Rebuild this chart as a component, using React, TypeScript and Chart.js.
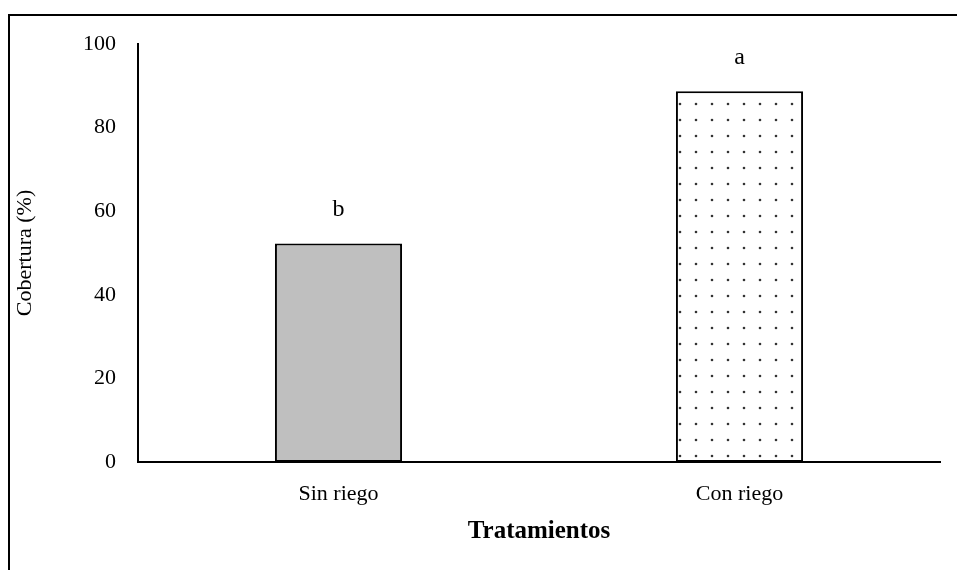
import React, { useEffect, useRef } from "react";
import { Chart, registerables } from "chart.js";

Chart.register(...registerables);

const categories = ["Sin riego", "Con riego"];
const values = [52.3, 88.7];
const letters = ["b", "a"];
const yMin = 0;
const yMax = 100;
const yStep = 20;
const xTitle = "Tratamientos";
const yTitle = "Cobertura (%)";

const FONT = "'Liberation Serif', 'Times New Roman', serif";

function makeDotPattern(ctx: CanvasRenderingContext2D): CanvasPattern | string {
  const c = document.createElement("canvas");
  c.width = 16;
  c.height = 16;
  const p = c.getContext("2d");
  if (!p) return "#fff";
  p.fillStyle = "#ffffff";
  p.fillRect(0, 0, 16, 16);
  p.fillStyle = "#333333";
  p.beginPath();
  p.arc(8, 8, 1.3, 0, Math.PI * 2);
  p.fill();
  return ctx.createPattern(c, "repeat") || "#fff";
}

const frameAndLetters = {
  id: "frameAndLetters",
  beforeDraw(chart: any) {
    const ctx = chart.ctx;
    ctx.save();
    ctx.fillStyle = "#fff";
    ctx.fillRect(0, 0, chart.width, chart.height);
    ctx.strokeStyle = "#000";
    ctx.lineWidth = 2;
    ctx.strokeRect(9, 15, chart.width + 20, chart.height + 20);
    ctx.restore();
  },
  afterDatasetsDraw(chart: any) {
    const ctx = chart.ctx;
    const meta = chart.getDatasetMeta(0);
    ctx.save();
    ctx.fillStyle = "#000";
    ctx.font = `24px ${FONT}`;
    ctx.textAlign = "center";
    ctx.textBaseline = "alphabetic";
    meta.data.forEach((bar: any, i: number) => {
      ctx.fillText(letters[i], bar.x, bar.y - 27);
    });
    ctx.restore();
  },
};

export default function App() {
  const ref = useRef<HTMLCanvasElement | null>(null);

  useEffect(() => {
    const canvas = ref.current;
    if (!canvas) return;
    const ctx = canvas.getContext("2d");
    if (!ctx) return;
    const pattern = makeDotPattern(ctx);
    const chart = new Chart(ctx, {
      type: "bar",
      data: {
        labels: categories,
        datasets: [
          {
            data: values,
            backgroundColor: ["#bfbfbf", pattern as any],
            borderColor: "#000",
            borderWidth: 2,
            borderSkipped: false,
            categoryPercentage: 1,
            barPercentage: 0.317,
          },
        ],
      },
      options: {
        responsive: false,
        animation: false,
        devicePixelRatio: 1,
        layout: { padding: { left: 0, top: 44, right: 17, bottom: 0 } },
        plugins: {
          legend: { display: false },
          tooltip: { enabled: false },
        },
        scales: {
          x: {
            grid: { display: false },
            border: { display: true, color: "#000", width: 2 },
            ticks: { color: "#000", font: { family: FONT, size: 22 }, padding: 11 },
            title: {
              display: true,
              text: xTitle,
              color: "#000",
              font: { family: FONT, size: 25, weight: "bold" },
              padding: { top: 0, bottom: 23 },
            },
            afterFit: (s: any) => {
              s.height = 108;
            },
          },
          y: {
            min: yMin,
            max: yMax,
            grid: { display: false },
            border: { display: true, color: "#000", width: 2 },
            ticks: {
              stepSize: yStep,
              color: "#000",
              font: { family: FONT, size: 22 },
              padding: 14,
            },
            title: {
              display: true,
              text: yTitle,
              color: "#000",
              font: { family: FONT, size: 22 },
              padding: { top: 12, bottom: 0 },
            },
            afterFit: (s: any) => {
              s.width = 138;
            },
          },
        },
      },
      plugins: [frameAndLetters],
    });
    return () => chart.destroy();
  }, []);

  return (
    <div style={{ position: "fixed", left: 0, top: 0, width: 957, height: 570, background: "#fff" }}>
      <canvas ref={ref} width={957} height={570} style={{ display: "block" }} />
    </div>
  );
}
